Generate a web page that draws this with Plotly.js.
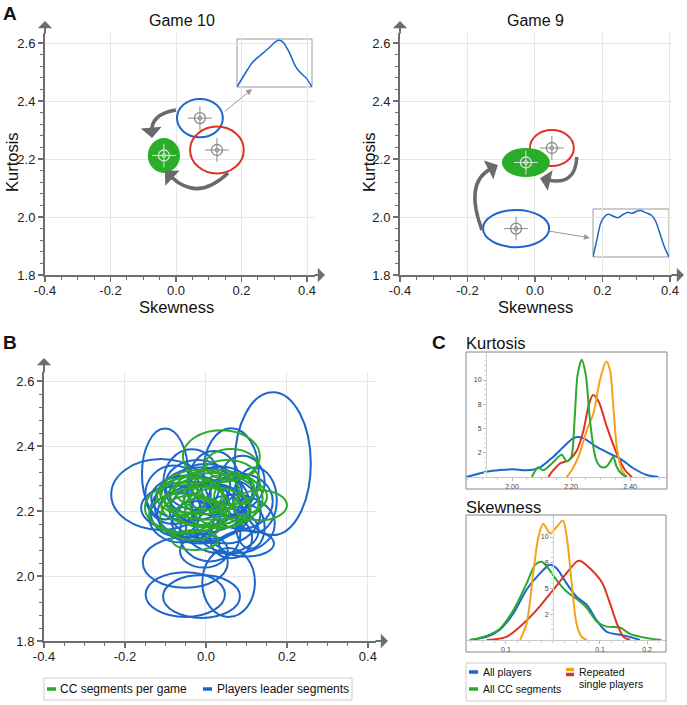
<!DOCTYPE html>
<html><head><meta charset="utf-8">
<script src="https://cdn.plot.ly/plotly-3.0.1.min.js"></script>
<style>html,body{margin:0;padding:0;background:#fff}#chart{width:687px;height:705px}</style>
</head><body><div id="chart"></div>
<script>
// ---------------- DATA ----------------
// Panel A, Game 10 : [blue leader, red single player, green CC]
const g10Skew  = [0.073, 0.125, -0.037];
const g10Kurt  = [2.341, 2.231, 2.212];
const g10RSkew = [0.070, 0.082, 0.049];
const g10RKurt = [0.066, 0.081, 0.060];
// Panel A, Game 9 : [red, blue, green]
const g9Skew  = [0.050, -0.056, -0.027];
const g9Kurt  = [2.238, 1.960, 2.188];
const g9RSkew = [0.065, 0.098, 0.071];
const g9RKurt = [0.062, 0.064, 0.050];
// Inset distributions
const inset10X = [0,0.1,0.2,0.25,0.35,0.45,0.52,0.58,0.62,0.7,0.78,0.85,0.92,1.0];
const inset10Y = [0,0.26,0.5,0.58,0.71,0.85,0.95,0.97,0.92,0.71,0.43,0.29,0.19,0];
const inset9X = [0,0.05,0.1,0.15,0.2,0.27,0.33,0.4,0.46,0.52,0.58,0.63,0.7,0.77,0.82,0.88,0.94,1.0];
const inset9Y = [0,0.35,0.7,0.84,0.89,0.85,0.82,0.89,0.93,0.91,0.96,0.97,0.92,0.87,0.76,0.49,0.21,0];
// Panel B, players leader segments (blue)
const bSkew  = [0.165,-0.111,-0.101,-0.051,-0.051,-0.011,0.056,-0.005,0.062,0.062,-0.035,0.121,0.110,-0.010,-0.015,-0.060,0.010,0.070,0.010,-0.020,-0.075,0.085,-0.025,0.035,0.100,0.000,-0.040,0.050,0.020,-0.080,0.040,-0.030,0.090];
const bKurt  = [2.346,2.251,2.314,2.042,1.943,1.937,1.980,2.077,2.117,2.320,2.290,2.234,2.150,2.220,2.190,2.180,2.200,2.160,2.130,2.280,2.200,2.230,2.170,2.260,2.100,2.250,2.240,2.200,2.300,2.250,2.140,2.210,2.290];
const bRSkew = [0.094,0.123,0.057,0.105,0.098,0.095,0.065,0.059,0.052,0.068,0.070,0.054,0.035,0.117,0.105,0.080,0.100,0.100,0.075,0.080,0.062,0.080,0.060,0.080,0.068,0.090,0.095,0.085,0.060,0.070,0.090,0.130,0.055];
const bRKurt = [0.220,0.109,0.140,0.078,0.069,0.066,0.106,0.051,0.062,0.135,0.100,0.100,0.066,0.115,0.090,0.077,0.085,0.090,0.085,0.077,0.077,0.085,0.060,0.077,0.040,0.095,0.070,0.100,0.085,0.090,0.070,0.080,0.080];
// Panel B, CC segments per game (green)
const gSkew  = [0.038,0.062,0.133,-0.027,-0.046,0.015,-0.015,-0.021,0.022,-0.060,0.028,-0.052,0.053,-0.033,0.080,-0.005,0.000,-0.035,0.045,-0.010];
const gKurt  = [2.369,2.343,2.218,2.111,2.211,2.245,2.258,2.229,2.265,2.192,2.209,2.234,2.288,2.180,2.240,2.240,2.215,2.250,2.230,2.195];
const gRSkew = [0.095,0.064,0.067,0.057,0.105,0.136,0.099,0.068,0.099,0.080,0.080,0.049,0.080,0.080,0.060,0.050,0.110,0.075,0.085,0.060];
const gRKurt = [0.080,0.048,0.046,0.031,0.078,0.072,0.068,0.072,0.062,0.062,0.062,0.046,0.069,0.069,0.070,0.050,0.060,0.055,0.080,0.045];
// Panel C, Kurtosis densities
const kBlueX = [1.846,1.914,1.959,2.004,2.050,2.095,2.140,2.174,2.208,2.231,2.253,2.287,2.332,2.366,2.411,2.457,2.496];
const kBlueY = [0,0.55,0.72,0.79,0.69,1.0,2.1,3.1,4.0,4.1,3.8,3.1,2.4,1.9,0.9,0.2,0];
const kGreenX = [2.067,2.089,2.105,2.135,2.168,2.185,2.200,2.212,2.222,2.236,2.250,2.262,2.276,2.287,2.304,2.321,2.338,2.343,2.355,2.372,2.389];
const kGreenY = [0,1.0,0.7,1.4,2.3,1.6,2.0,6.0,10.5,12.1,10.5,6.5,3.0,1.6,1.0,1.1,1.9,2.1,1.0,0.3,0];
const kRedX = [2.123,2.140,2.163,2.191,2.219,2.242,2.259,2.274,2.293,2.321,2.355,2.383,2.406];
const kRedY = [0,0.7,1.4,1.7,2.7,4.8,7.3,8.45,7.8,5.2,2.4,0.7,0];
const kOrangeX = [2.185,2.202,2.225,2.253,2.276,2.298,2.319,2.332,2.343,2.355,2.372,2.389];
const kOrangeY = [0,0.7,2.1,4.8,6.6,10.0,11.9,11.0,7.3,3.1,0.7,0];
// Panel C, Skewness densities
const sBlueX = [-0.177,-0.141,-0.113,-0.084,-0.056,-0.031,-0.006,0.008,0.029,0.050,0.072,0.093,0.114,0.143,0.164,0.185];
const sBlueY = [0,0.3,1.0,2.6,4.9,6.3,7.3,6.95,5.5,4.2,3.4,1.9,0.8,0.5,0.3,0];
const sGreenX = [-0.177,-0.141,-0.113,-0.084,-0.056,-0.038,-0.024,-0.010,0.008,0.029,0.050,0.072,0.093,0.114,0.143,0.164,0.199,0.231];
const sGreenY = [0,0.4,1.1,2.9,5.5,7.3,7.6,6.95,5.8,4.7,4.0,3.1,1.8,1.3,1.2,0.6,0.2,0];
const sOrangeX = [-0.070,-0.056,-0.042,-0.031,-0.021,-0.006,0.008,0.021,0.029,0.040,0.050,0.061,0.072];
const sOrangeY = [0,1.6,6.5,10.0,11.3,10.35,11.0,11.6,10.1,5.5,1.6,0.3,0];
const sRedX = [-0.141,-0.099,-0.070,-0.035,0.001,0.029,0.050,0.057,0.079,0.104,0.121,0.136,0.150,0.164];
const sRedY = [0,0.3,1.3,2.9,4.9,6.5,7.6,7.7,6.95,5.6,3.6,1.6,0.3,0];
// Tick labels
const mainTickVals = [-0.4,-0.2,0,0.2,0.4];
const mainTickText = ['-0.4','-0.2','0.0','0.2','0.4'];
const kurtTickVals = [1.8,2.0,2.2,2.4,2.6];
const kurtTickText = ['1.8','2.0','2.2','2.4','2.6'];
const cKurtXVals = [2.0,2.2,2.4], cKurtXText = ['2.00','2.20','2.40'];
const cSkewXVals = [-0.1,0.1,0.2], cSkewXText = ['0.1','0.1','0.2'];
const cYVals = [2.5,5,7.5,10], cYText = ['2','5','8','10'];

// ---------------- STYLE / HELPERS ----------------
const W = 687, H = 705;
const PX = p => p / W;
const PY = p => 1 - p / H;
const FONT = '"Liberation Sans", Arial, Helvetica, sans-serif';
const BLUE = '#1a66cc', GREEN = '#2ca82c', RED = '#dd3322', ORANGE = '#f4a11c';
const AX = '#6e6e6e', ARROW = '#6a6a6a';

const traces = [], shapes = [], annotations = [];

function ell(xr, yr, cx, cy, rx, ry, color, width, fill) {
  shapes.push({type:'circle', xref:xr, yref:yr, x0:cx-rx, x1:cx+rx, y0:cy-ry, y1:cy+ry,
    line:{color: color, width: width}, fillcolor: fill || 'rgba(0,0,0,0)', layer:'between'});
}
function targets(xa, ya, xs, ys, cols) {
  const base = {type:'scatter', mode:'markers', xaxis:xa, yaxis:ya, x:xs, y:ys, hoverinfo:'skip', showlegend:false};
  traces.push(Object.assign({}, base, {marker:{symbol:'cross-thin-open', size:17, color:cols, line:{color:cols, width:1}}}));
  traces.push(Object.assign({}, base, {marker:{symbol:'circle-open', size:11, color:cols, line:{color:cols, width:1.3}}}));
  traces.push(Object.assign({}, base, {marker:{symbol:'circle-open', size:4, color:cols, line:{color:cols, width:1}}}));
}
function line(xa, ya, xs, ys, color, w) {
  traces.push({type:'scatter', mode:'lines', xaxis:xa, yaxis:ya, x:xs, y:ys, hoverinfo:'skip', showlegend:false,
    line:{color:color, width:w||2, shape:'spline', smoothing:0.8}});
}
function mainAxis(d, r, anchor, vals, text, t0, md, isX) {
  return {domain:d, range:r, anchor:anchor, tickmode:'array', tickvals:vals, ticktext:text,
    showgrid:true, gridcolor:'#e6e6e6', gridwidth:1, zeroline:false,
    showline:true, linecolor:AX, linewidth:2, ticks:'outside', ticklen:5, tickwidth:1.4, tickcolor:AX,
    ticklabelstandoff: isX ? -3 : 0,
    tickfont:{family:FONT, size:13, color:'#222'}, fixedrange:true,
    minor:{tickmode:'linear', tick0:t0, dtick:md, ticks:'outside', ticklen:3, tickwidth:1, tickcolor:AX, showgrid:false}};
}
function axArrow(tipX, tipY, dx, dy) {
  annotations.push({xref:'paper', yref:'paper', x:PX(tipX), y:PY(tipY), ax:dx, ay:dy, text:'',
    showarrow:true, arrowhead:1, arrowsize:1.2, arrowwidth:2, arrowcolor:AX, standoff:0});
}
function txt(x, y, s, size, opts) {
  annotations.push(Object.assign({xref:'paper', yref:'paper', x:PX(x), y:PY(y), text:s, showarrow:false,
    font:{family:FONT, size:size, color:'#111'}, xanchor:'center', yanchor:'middle'}, opts||{}));
}

// ---------------- PANEL A ----------------
const aColors10 = [BLUE, RED, GREEN];
for (let i = 0; i < 3; i++) {
  if (i === 2) ell('x','y', g10Skew[i], g10Kurt[i], g10RSkew[i], g10RKurt[i], '#2aae2a', 0, '#2aae2a');
  else ell('x','y', g10Skew[i], g10Kurt[i], g10RSkew[i], g10RKurt[i], aColors10[i], 2);
}
targets('x','y', g10Skew, g10Kurt, ['#8a8a8a','#8a8a8a','#e0e0e0']);
const aColors9 = [RED, BLUE, GREEN];
for (let i = 0; i < 3; i++) {
  if (i === 2) ell('x2','y2', g9Skew[i], g9Kurt[i], g9RSkew[i], g9RKurt[i], '#2aae2a', 0, '#2aae2a');
  else ell('x2','y2', g9Skew[i], g9Kurt[i], g9RSkew[i], g9RKurt[i], aColors9[i], 2);
}
targets('x2','y2', g9Skew, g9Kurt, ['#8a8a8a','#8a8a8a','#e0e0e0']);

// curved transition arrows: [xref, yref, x0, y0, cx, cy, x1, y1]
const curvedArrows = [
  ['x','y',  0.000, 2.369, -0.079, 2.355, -0.073, 2.272],
  ['x','y',  0.159, 2.152,  0.066, 2.052, -0.034, 2.159],
  ['x2','y2', -0.157, 1.955, -0.210, 2.119, -0.110, 2.179],
  ['x2','y2',  0.124, 2.207,  0.120, 2.105,  0.015, 2.134]
];
curvedArrows.forEach(a => {
  const [xr, yr, x0, y0, cx, cy, x1, y1] = a;
  const ex = x1 + (cx - x1) * 0.2, ey = y1 + (cy - y1) * 0.2;
  shapes.push({type:'path', xref:xr, yref:yr, path:`M ${x0},${y0} Q ${cx},${cy} ${ex},${ey}`,
    line:{color:ARROW, width:3.5}, layer:'between'});
  annotations.push({xref:xr, yref:yr, axref:xr, ayref:yr, x:x1, y:y1, ax:x1 + (cx - x1) * 0.3, ay:y1 + (cy - y1) * 0.3,
    text:'', showarrow:true, arrowhead:1, arrowsize:1, arrowwidth:3.5, arrowcolor:ARROW, standoff:0});
});
// pointer arrows to insets: [xref, yref, tailX, tailY, headX, headY]
const pointerArrows = [
  ['x','y', 0.144, 2.359, 0.232, 2.441],
  ['x2','y2', 0.0385, 1.952, 0.163, 1.928]
];
pointerArrows.forEach(a => {
  annotations.push({xref:a[0], yref:a[1], axref:a[0], ayref:a[1], x:a[4], y:a[5], ax:a[2], ay:a[3],
    text:'', showarrow:true, arrowhead:2, arrowsize:1.2, arrowwidth:1, arrowcolor:'#999', standoff:0});
});

// insets
shapes.push({type:'rect', xref:'x3 domain', yref:'y3 domain', x0:0, x1:1, y0:0, y1:1, fillcolor:'#fff', line:{color:'#999', width:1}, layer:'below'});
shapes.push({type:'rect', xref:'x4 domain', yref:'y4 domain', x0:0, x1:1, y0:0, y1:1, fillcolor:'#fff', line:{color:'#999', width:1}, layer:'below'});
line('x3','y3', inset10X, inset10Y, BLUE, 1.5);
line('x4','y4', inset9X, inset9Y, BLUE, 1.5);

// ---------------- PANEL B ----------------
for (let i = 0; i < bSkew.length; i++) ell('x5','y5', bSkew[i], bKurt[i], bRSkew[i], bRKurt[i], BLUE, 2);
for (let i = 0; i < gSkew.length; i++) ell('x5','y5', gSkew[i], gKurt[i], gRSkew[i], gRKurt[i], GREEN, 2);

// ---------------- PANEL C ----------------
line('x6','y6', kBlueX, kBlueY, BLUE);
line('x6','y6', kRedX, kRedY, RED);
line('x6','y6', kOrangeX, kOrangeY, ORANGE);
line('x6','y6', kGreenX, kGreenY, GREEN);
line('x7','y7', sBlueX, sBlueY, BLUE);
line('x7','y7', sGreenX, sGreenY, GREEN);
line('x7','y7', sRedX, sRedY, RED);
line('x7','y7', sOrangeX, sOrangeY, ORANGE);

// frames
shapes.push({type:'rect', xref:'paper', yref:'paper', x0:PX(466), x1:PX(667), y0:PY(489), y1:PY(352), line:{color:'#888', width:1}});
shapes.push({type:'rect', xref:'paper', yref:'paper', x0:PX(466), x1:PX(666), y0:PY(652), y1:PY(515), line:{color:'#888', width:1}});

// ---------------- AXES ----------------
const cAxisX = (d, r, anchor, vals, text, t0, md) => ({domain:d, range:r, anchor:anchor, tickmode:'array', tickvals:vals, ticktext:text,
    showgrid:false, zeroline:false, showline:true, linecolor:'#c8c8c8', linewidth:1, ticks:'outside', ticklen:3, tickcolor:'#bbb',
    tickfont:{family:FONT, size:7, color:'#444'}, fixedrange:true,
    minor:{tickmode:'linear', tick0:t0, dtick:md, ticks:'outside', ticklen:2, tickcolor:'#ccc'}});
const cAxisY = (d, r, pos) => ({domain:d, range:r, anchor:'free', position:pos, tickmode:'array', tickvals:cYVals, ticktext:cYText,
    showgrid:false, zeroline:false, showline:true, linecolor:'#d0d0d0', linewidth:1, ticks:'outside', ticklen:3, tickcolor:'#bbb',
    tickfont:{family:FONT, size:7, color:'#444'}, fixedrange:true,
    minor:{tickmode:'linear', tick0:0, dtick:0.5, ticks:'outside', ticklen:2, tickcolor:'#ddd'}});

const layout = {
  width:W, height:H, margin:{l:0, r:0, t:0, b:0}, paper_bgcolor:'#fff', plot_bgcolor:'rgba(0,0,0,0)',
  showlegend:false, font:{family:FONT},
  xaxis:  mainAxis([PX(45), PX(315)], [-0.4, 0.4244], 'y', mainTickVals, mainTickText, -0.4, 0.05, true),
  yaxis:  mainAxis([PY(275), PY(33)], [1.8, 2.6345], 'x', kurtTickVals, kurtTickText, 1.8, 0.04, false),
  xaxis2: mainAxis([PX(400), PX(672)], [-0.4, 0.406], 'y2', mainTickVals, mainTickText, -0.4, 0.05, true),
  yaxis2: mainAxis([PY(275), PY(33)], [1.8, 2.6345], 'x2', kurtTickVals, kurtTickText, 1.8, 0.04, false),
  xaxis5: mainAxis([PX(44), PX(376)], [-0.4, 0.42], 'y5', mainTickVals, mainTickText, -0.4, 0.05, true),
  yaxis5: mainAxis([PY(641), PY(372)], [1.8, 2.628], 'x5', kurtTickVals, kurtTickText, 1.8, 0.04, false),
  xaxis3: {domain:[PX(237), PX(312)], range:[0,1], anchor:'y3', visible:false, fixedrange:true},
  yaxis3: {domain:[PY(87), PY(39)], range:[0,1.0], anchor:'x3', visible:false, fixedrange:true},
  xaxis4: {domain:[PX(593), PX(669)], range:[0,1], anchor:'y4', visible:false, fixedrange:true},
  yaxis4: {domain:[PY(257), PY(209)], range:[0,1.0], anchor:'x4', visible:false, fixedrange:true},
  xaxis6: cAxisX([PX(466), PX(667)], [1.844, 2.525], 'y6', cKurtXVals, cKurtXText, 2.0, 0.05),
  yaxis6: cAxisY([PY(477), PY(352)], [0, 12.89], PX(486)),
  xaxis7: cAxisX([PX(466), PX(666)], [-0.185, 0.2404], 'y7', cSkewXVals, cSkewXText, 0, 0.025),
  yaxis7: cAxisY([PY(640), PY(515)], [0, 12.14], PX(553)),
  shapes: shapes, annotations: annotations
};

// axis arrows
axArrow(325, 275, -12, 0); axArrow(45, 21, 0, 14);
axArrow(684, 275, -14, 0); axArrow(400, 21, 0, 14);
axArrow(388, 641, -14, 0); axArrow(44, 358, 0, 16);

// texts
txt(10, 13, '<b>A</b>', 19);
txt(10, 342, '<b>B</b>', 19);
txt(439, 343, '<b>C</b>', 19);
txt(182, 20, 'Game 10', 16);
txt(535, 20, 'Game 9', 16);
txt(12, 162, 'Kurtosis', 16.5, {textangle:-90});
txt(369, 162, 'Kurtosis', 16.5, {textangle:-90});
txt(176, 307, 'Skewness', 16.5);
txt(535, 307, 'Skewness', 16.5);
txt(464, 343, 'Kurtosis', 16.5, {xanchor:'left'});
txt(464, 507, 'Skewness', 16.5, {xanchor:'left'});

// legend B
shapes.push({type:'rect', xref:'paper', yref:'paper', x0:PX(44), x1:PX(352), y0:PY(700), y1:PY(678), line:{color:'#ccc', width:1}});
shapes.push({type:'line', xref:'paper', yref:'paper', x0:PX(47), x1:PX(56), y0:PY(689), y1:PY(689), line:{color:GREEN, width:3.5}});
shapes.push({type:'line', xref:'paper', yref:'paper', x0:PX(203), x1:PX(212), y0:PY(689), y1:PY(689), line:{color:BLUE, width:3.5}});
txt(58, 689, 'CC segments per game', 12, {xanchor:'left'});
txt(215, 689, 'Players leader segments', 12, {xanchor:'left'});
// legend C
shapes.push({type:'rect', xref:'paper', yref:'paper', x0:PX(466), x1:PX(666), y0:PY(701), y1:PY(663), line:{color:'#ccc', width:1}});
shapes.push({type:'line', xref:'paper', yref:'paper', x0:PX(469), x1:PX(478), y0:PY(672), y1:PY(672), line:{color:BLUE, width:3.5}});
shapes.push({type:'line', xref:'paper', yref:'paper', x0:PX(469), x1:PX(478), y0:PY(689), y1:PY(689), line:{color:GREEN, width:3.5}});
shapes.push({type:'line', xref:'paper', yref:'paper', x0:PX(566), x1:PX(574), y0:PY(669.5), y1:PY(669.5), line:{color:ORANGE, width:3.5}});
shapes.push({type:'line', xref:'paper', yref:'paper', x0:PX(566), x1:PX(574), y0:PY(674.5), y1:PY(674.5), line:{color:RED, width:3.5}});
txt(481, 672, 'All players', 10.5, {xanchor:'left'});
txt(481, 689, 'All CC segments', 10.5, {xanchor:'left'});
txt(577, 671.5, 'Repeated', 10.5, {xanchor:'left'});
txt(577, 683.5, 'single players', 10.5, {xanchor:'left'});

Plotly.newPlot('chart', traces, layout, {staticPlot:true, displayModeBar:false});
</script></body></html>
